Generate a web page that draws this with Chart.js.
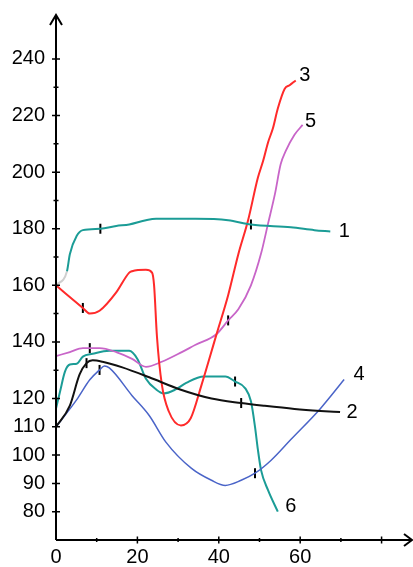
<!DOCTYPE html>
<html>
<head>
<meta charset="utf-8">
<title>Curves 1-6</title>
<script src="https://cdn.jsdelivr.net/npm/chart.js@4"></script>
<style>
  body { margin: 0; background: #fff; }
  #wrap { width: 413px; height: 567px; }
</style>
</head>
<body>
<div id="wrap"><canvas id="chart"></canvas></div>
<script>
// Values as [x, y] pairs
const curve1 = [[0,160],[2.7,165],[3.4,171],[5.1,177.5],[6.6,179.5],[10.9,180],[14.8,181],[18,181.5],[22.1,183],[24.6,183.5],[34.3,183.5],[42.3,183],[47.9,181.5],[57.7,180.5],[63.5,179.5],[67.4,179]];
const curve2 = [[0,110],[3.4,117.5],[5.8,128.5],[7.5,132.5],[9,133.5],[11.4,133],[16.3,131],[22.9,127.5],[30.5,123.2],[38.2,120],[45.5,118.4],[51.3,117.4],[58.6,116.3],[65,115.6],[69.8,115.2]];
const curve3 = [[0,160],[6.6,152],[8.3,150],[10.7,151],[14.8,157.5],[18,164.5],[18.7,165],[22.1,165.5],[23.6,164.5],[24.1,160],[24.8,142],[26,125],[27.7,115.5],[30.7,110.5],[33.1,113],[35.8,125],[39.4,142.5],[42.3,156.5],[44.8,171],[47.2,183],[49.6,198],[50.9,204],[52.1,210.5],[53.3,215.5],[54.5,222.5],[56.2,229.5],[57.4,230.7],[58.9,232.4]];
const curve4 = [[0,110],[5.1,119.6],[8.3,126.6],[10.7,130.1],[11.9,131.5],[13.1,130.8],[18.7,121],[22.9,114],[27,104.6],[33.3,95.3],[38.2,91.1],[41.6,89.3],[45.5,91.1],[48.9,93.6],[52.8,98.1],[57.7,105.5],[65,116.5],[70.8,126.7]];
const curve5 = [[0,135],[3.4,136.4],[6.6,137.8],[10.7,137.8],[14.8,136.4],[18.7,134],[22.1,131.2],[26,133],[30.9,136.4],[34.3,139],[39.4,142.7],[42.3,147.6],[44.8,151.5],[47.9,160],[50.4,171.3],[52.1,181.8],[53.8,192.3],[55.2,202.8],[56.4,207.3],[58.6,213.2],[60.6,216.7]];
const curve6 = [[0,116.5],[1,122.5],[2.2,129.5],[3.4,132],[5.1,132.3],[6.6,134.8],[9,135.8],[13.1,136.9],[18,136.9],[20,134],[22.1,127],[24.6,123.2],[26.5,121.8],[29.4,123.2],[32,125.5],[36.3,127.8],[41.6,127.8],[44,126],[46.5,123.6],[47.9,119],[48.9,110],[49.6,102],[50.4,94.6],[52.1,87.6],[54.5,80]];

// Small black marks sitting on the curves
const marks = [[10.9,180],[47.9,181.5],[7.5,132.5],[45.5,118.4],[6.6,152],[10.7,130.1],[48.9,93.6],[8.3,137.8],[42.3,147.6],[44,126]];

// Curve names written at the end of each line
const curveNames = ['1', '2', '3', '4', '5', '6'];

// Axis ticks
const xLabelled = [0, 20, 40, 60, 80];
const yLabelled = [80, 90, 100, 110, 120, 140, 160, 180, 200, 220, 240];

const toPoints = arr => arr.map(p => ({ x: p[0], y: p[1] }));

const TEAL = '#1b9c96';
const FONT = '"Liberation Sans", Arial, sans-serif';

// Where each name sits relative to the last point of its curve (px)
const nameOffset = [[14, 0], [12, 0], [9, -5], [15, -5], [8, -3], [13, -5]];

// Draws the arrowed axes, their tick marks and the curve names
const axesPlugin = {
  id: 'axes',
  afterDatasetsDraw(chart) {
    const ctx = chart.ctx;
    const xs = chart.scales.x;
    const ys = chart.scales.y;
    const x0 = xs.getPixelForValue(0);
    const yBase = ys.getPixelForValue(70);

    ctx.save();
    ctx.strokeStyle = '#000';
    ctx.lineWidth = 2;

    // y axis with arrow
    ctx.beginPath();
    ctx.moveTo(x0, yBase);
    ctx.lineTo(x0, 15);
    ctx.moveTo(x0 - 6, 25);
    ctx.lineTo(x0, 15);
    ctx.lineTo(x0 + 6, 25);
    // x axis with arrow
    ctx.moveTo(x0, yBase);
    ctx.lineTo(412, yBase);
    ctx.moveTo(404, yBase - 6);
    ctx.lineTo(412, yBase);
    ctx.lineTo(404, yBase + 6);
    ctx.stroke();

    // tick marks on the axes
    ctx.lineWidth = 1.5;
    ctx.beginPath();
    for (let v = 80; v <= 240; v += 10) {
      const py = ys.getPixelForValue(v);
      const len = yLabelled.includes(v) ? 4 : 2.5;
      ctx.moveTo(x0 - len, py);
      ctx.lineTo(x0 + len, py);
    }
    for (let v = 10; v <= 80; v += 10) {
      const px = xs.getPixelForValue(v);
      const len = xLabelled.includes(v) ? 3.5 : 2;
      ctx.moveTo(px, yBase - len);
      ctx.lineTo(px, yBase + len);
    }
    ctx.stroke();

    // curve names
    ctx.fillStyle = '#000';
    ctx.font = '20px ' + FONT;
    ctx.textAlign = 'center';
    ctx.textBaseline = 'middle';
    curveNames.forEach((name, i) => {
      const meta = chart.getDatasetMeta(i);
      const last = meta.data[meta.data.length - 1];
      ctx.fillText(name, last.x + nameOffset[i][0], last.y + nameOffset[i][1]);
    });
    ctx.restore();
  }
};

const lineSet = (data, color, width) => ({
  type: 'line',
  data: toPoints(data),
  borderColor: color,
  borderWidth: width,
  pointRadius: 0,
  fill: false,
  cubicInterpolationMode: 'monotone',
  clip: false
});

const set1 = lineSet(curve1, TEAL, 2);
// the first little stretch of curve 1 is pale grey
set1.segment = { borderColor: c => c.p0DataIndex === 0 ? '#cfcfcf' : TEAL };

new Chart(document.getElementById('chart'), {
  data: {
    datasets: [
      set1,
      lineSet(curve2, '#111', 2),
      lineSet(curve3, '#ff2a2a', 2),
      lineSet(curve4, '#4a64c8', 1.5),
      lineSet(curve5, '#c865c8', 1.8),
      lineSet(curve6, TEAL, 2),
      {
        type: 'scatter',
        data: toPoints(marks),
        pointStyle: 'line',
        rotation: 90,
        radius: 5,
        borderColor: '#000',
        borderWidth: 2,
        clip: false
      }
    ]
  },
  options: {
    responsive: true,
    maintainAspectRatio: false,
    animation: false,
    layout: { padding: { top: 17, right: 4, left: 0, bottom: 0 } },
    plugins: {
      legend: { display: false },
      tooltip: { enabled: false }
    },
    scales: {
      x: {
        type: 'linear',
        min: 0,
        max: 86,
        grid: { display: false, drawTicks: false },
        border: { display: false },
        ticks: {
          stepSize: 10,
          autoSkip: false,
          maxRotation: 0,
          padding: 5,
          color: '#000',
          font: { family: FONT, size: 20 },
          callback: v => xLabelled.includes(v) ? String(v) : ''
        },
        afterFit: s => { s.height = 27; }
      },
      y: {
        type: 'linear',
        min: 70,
        max: 252.7,
        grid: { display: false, drawTicks: false },
        border: { display: false },
        ticks: {
          stepSize: 10,
          autoSkip: false,
          padding: 11,
          color: '#000',
          font: { family: FONT, size: 20 },
          callback: v => yLabelled.includes(v) ? String(v) : ''
        },
        afterFit: s => { s.width = 56; }
      }
    }
  },
  plugins: [axesPlugin]
});
</script>
</body>
</html>
